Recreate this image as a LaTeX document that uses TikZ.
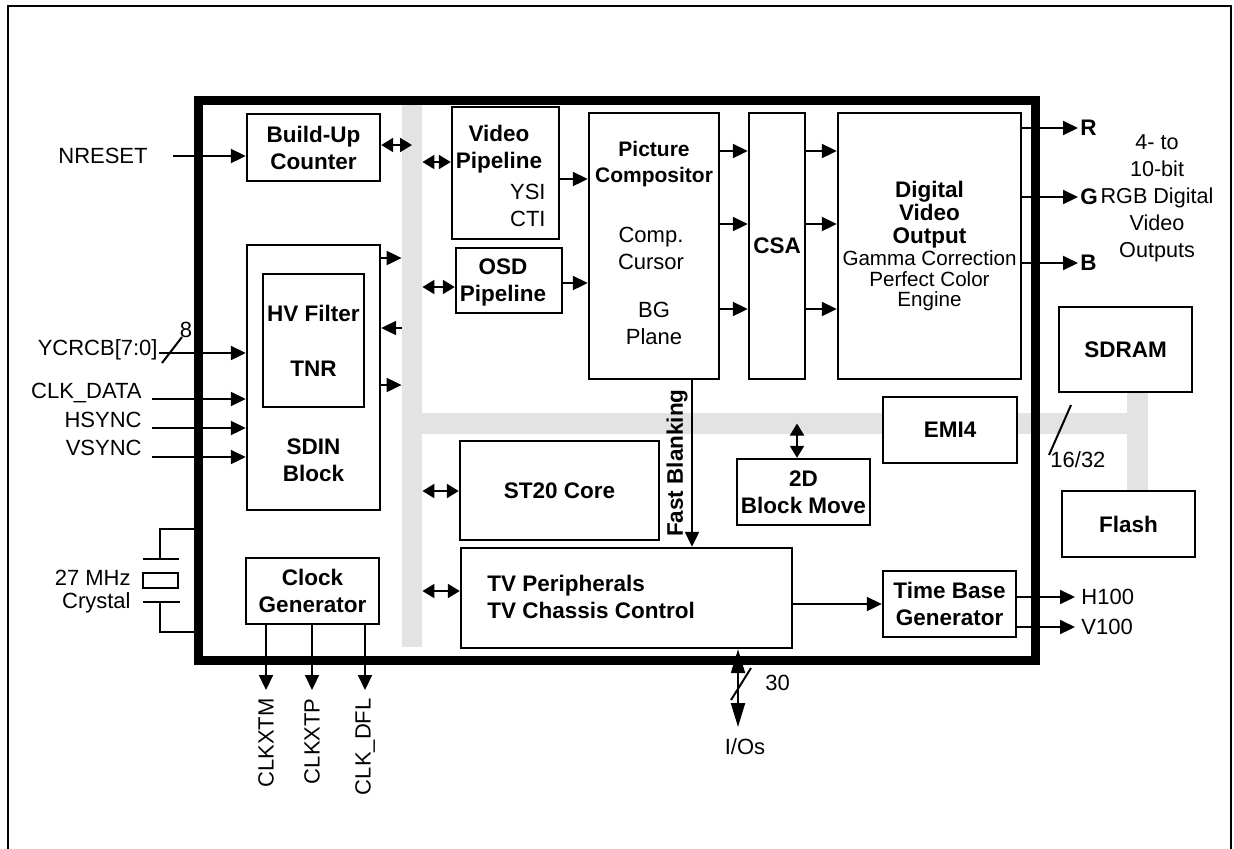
\documentclass[tikz,border=0pt]{standalone}
\usepackage{fontspec}
\setmainfont{Liberation Sans}
\usetikzlibrary{arrows.meta,calc}

\begin{document}
\begin{tikzpicture}[x=0.5pt,y=-0.5pt,
  >={Triangle[length=7.5pt,width=7pt]},
  wire/.style={line width=1pt},
  flow/.style={->,line width=1pt},
  dflow/.style={{Triangle[length=6pt,width=7pt]}-{Triangle[length=6pt,width=7pt]},line width=1pt},
  blk/.style={draw,line width=1.2pt,fill=white,inner sep=0pt,align=center,
              font=\fontsize{11.25}{13.5}\selectfont\bfseries},
  btxt/.style={inner sep=0pt,align=center,font=\fontsize{11.25}{13.5}\selectfont\bfseries},
  ntxt/.style={inner sep=0pt,align=center,font=\fontsize{11}{13.5}\selectfont},
  bus/.style={fill=black!11,inner sep=0pt}
]
\useasboundingbox (0,0) rectangle (1234,848);

% page frame
\draw[wire] (8,870) -- (8,6) -- (1231,6) -- (1231,870);

% grey buses
\node[bus,minimum width=10pt,minimum height=271pt] (busv) at (412,376) {};
\node[bus,minimum width=373pt,minimum height=10.5pt] (bush) at (775,423.5) {};
\node[bus,minimum width=10.5pt,minimum height=49.5pt] (busx) at (1137.5,441.5) {};

% chip outline
\node[draw,line width=4.5pt,inner sep=0pt,minimum width=418.5pt,minimum height=280pt] (chip) at (616.5,380) {};

% blocks
\node[blk,minimum width=66.5pt,minimum height=33.5pt] (buc) at (313.5,147.5) {Build-Up\\Counter};
\node[blk,minimum width=66.5pt,minimum height=132.5pt] (sdin) at (313.5,377.5) {};
\node[blk,minimum width=50.5pt,minimum height=66.5pt] (hv) at (313.5,340.5) {HV Filter\\[14pt]TNR};
\node[btxt] (sdinlbl) at (313.5,460.5) {SDIN\\Block};
\node[blk,minimum width=66.5pt,minimum height=33pt] (clk) at (312.5,591) {Clock\\Generator};
\node[blk,minimum width=53.5pt,minimum height=66pt] (vp) at (505.5,173) {};
\node[btxt] (vplbl) at (499,149) {Video\\Pipeline};
\node[ntxt,anchor=east,align=right] (vpsub) at (546,205) {YSI\\CTI};
\node[blk,minimum width=53pt,minimum height=32.5pt] (osd) at (509,280.5) {};
\node[btxt] (osdlbl) at (503,282) {OSD\\Pipeline};
\node[blk,minimum width=65pt,minimum height=133pt] (pc) at (654,246) {};
\node[btxt,font=\fontsize{10.5}{13}\selectfont\bfseries] (pclbl) at (654,164) {Picture\\Compositor};
\node[ntxt] (pcsub1) at (651,248) {Comp.\\Cursor};
\node[ntxt] (pcsub2) at (654,323) {BG\\Plane};
\node[blk,minimum width=28pt,minimum height=133pt] (csa) at (777,246) {CSA};
\node[blk,minimum width=91.5pt,minimum height=133pt] (dvo) at (929.5,246) {};
\node[btxt,font=\fontsize{11.25}{11.5}\selectfont\bfseries] (dvolbl) at (929.5,215) {Digital\\Video\\Output};
\node[ntxt,font=\fontsize{10.3}{10.2}\selectfont] (dvosub) at (929.5,281) {Gamma Correction\\Perfect Color\\Engine};
\node[blk,minimum width=99.5pt,minimum height=49.5pt] (st20) at (559.5,490.5) {ST20 Core};
\node[blk,minimum width=165.5pt,minimum height=50pt] (tvp) at (626.5,598) {};
\node[btxt,anchor=west,align=left] (tvplbl) at (487,597) {TV Peripherals\\TV Chassis Control};
\node[blk,minimum width=66.5pt,minimum height=33pt] (blk2d) at (803.5,492) {2D\\Block Move};
\node[blk,minimum width=67pt,minimum height=33pt] (emi) at (950,430) {EMI4};
\node[blk,minimum width=66.5pt,minimum height=33pt] (tbg) at (949.5,604) {Time Base\\Generator};
\node[blk,minimum width=66.5pt,minimum height=42.5pt] (sdram) at (1125.5,349.5) {SDRAM};
\node[blk,minimum width=66.5pt,minimum height=33pt] (flash) at (1128.5,524) {Flash};

% input pins
\node[ntxt,anchor=east] (nreset) at (148,156) {NRESET};
\draw[flow] ($(nreset.east)+(25,0)$) -- (buc.west |- nreset.east);
\node[ntxt,anchor=east] (ycrcb) at (158,350) {YCRCB[7:0]};
\draw[flow] ($(ycrcb.east)+(1,3)$) -- (sdin.west |- 0,353);
\draw[wire] ($(ycrcb.east)+(4,13)$) -- ($(ycrcb.east)+(24,-13)$);
\node[ntxt] (w8) at (186,330) {8};
\foreach \nm/\txt/\ty/\ly in {cd/CLK\_DATA/393/399, hs/HSYNC/420/428, vs/VSYNC/448/457} {
  \node[ntxt,anchor=east] (\nm) at (142,\ty) {\txt};
  \draw[flow] ($(\nm.east)+(10,\ly-\ty)$) -- (sdin.west |- 0,\ly);
}

% crystal
\node[draw,line width=1pt,inner sep=0pt,minimum width=17.5pt,minimum height=7.5pt] (xtal) at (160.5,580.5) {};
\coordinate (xtop) at (160,559);
\coordinate (xbot) at (160,602);
\draw[wire] ($(xtop)+(-17,0)$) -- ($(xtop)+(19,0)$);
\draw[wire] ($(xbot)+(-17,0)$) -- ($(xbot)+(20,0)$);
\draw[wire] (xtop) |- (chip.west |- 0,529);
\draw[wire] (xbot) |- (chip.west |- 0,632);
\node[ntxt,anchor=east,align=right,font=\fontsize{11}{11.5}\selectfont] (xlbl) at (131,591.5) {27 MHz\\Crystal};

% clock outputs
\foreach \nm/\xx/\txt in {xtm/266/CLKXTM, xtp/312/CLKXTP, dfl/365/CLK\_DFL} {
  \coordinate (\nm) at (\xx,690);
  \draw[flow] (clk.south -| \nm) -- (\nm);
  \node[ntxt,rotate=90,anchor=east] (l\nm) at (\xx,698) {\txt};
}

% links to the bus
\draw[dflow] (buc.east |- 0,145) -- (busv |- 0,145);
\foreach \nm/\yy in {vp/162, osd/287, st20/491, tvp/591}
  \draw[dflow] (busv.east |- 0,\yy) -- (\nm.west |- 0,\yy);
\draw[dflow] (bush -| 797,0) -- (blk2d.north -| 797,0);
\draw[flow] (sdin.east |- 0,258) -- (busv.west |- 0,258);
\draw[flow] (busv.west |- 0,328) -- (sdin.east |- 0,328);
\draw[flow] (sdin.east |- 0,385) -- (busv.west |- 0,385);

% video path
\draw[flow] (vp.east |- 0,179) -- (pc.west |- 0,179);
\draw[flow] (osd.east |- 0,283) -- (pc.west |- 0,283);
\foreach \yy in {151,224,309} {
  \draw[flow] (pc.east |- 0,\yy) -- (csa.west |- 0,\yy);
  \draw[flow] (csa.east |- 0,\yy) -- (dvo.west |- 0,\yy);
}
\foreach \c/\yy in {R/128,G/197,B/263} {
  \node[btxt,anchor=west] (o\c) at (1080,\yy) {\c};
  \draw[flow] (dvo.east |- o\c.west) -- ([xshift=-1pt]o\c.west);
}
\node[ntxt,font=\fontsize{10.8}{13.5}\selectfont] (rgbtxt) at (1157,198) {4- to\\10-bit\\RGB Digital\\Video\\Outputs};

% fast blanking
\draw[flow] (pc.south -| 692,0) -- (tvp.north -| 692,0);
\node[btxt,rotate=90] (fblbl) at (677,463) {Fast Blanking};

% timing outputs
\draw[flow] (tvp.east |- tbg.west) -- (tbg.west);
\foreach \nm/\yy in {H100/597, V100/627} {
  \node[ntxt,anchor=west] (o\nm) at (1081,\yy) {\nm};
  \draw[flow] (tbg.east |- o\nm.west) -- ([xshift=-3pt]o\nm.west);
}

% I/Os
\coordinate (io) at (738,727);
\draw[line width=1pt,{Triangle[length=12pt,width=7pt]}-{Triangle[length=12pt,width=7pt]}] (tvp.south -| io) -- (io);
\draw[wire] ($(io)+(-7,-27)$) -- ($(io)+(13,-59)$);
\node[ntxt,anchor=west] (n30) at (765,683) {30};
\node[ntxt] (iolbl) at (745,747) {I/Os};

% memory bus width
\node[ntxt,anchor=west] (w1632) at (1050,460) {16/32};
\draw[wire] ($(w1632.west)+(-1,-5)$) -- ($(w1632.west)+(21,-55)$);
\end{tikzpicture}
\end{document}
